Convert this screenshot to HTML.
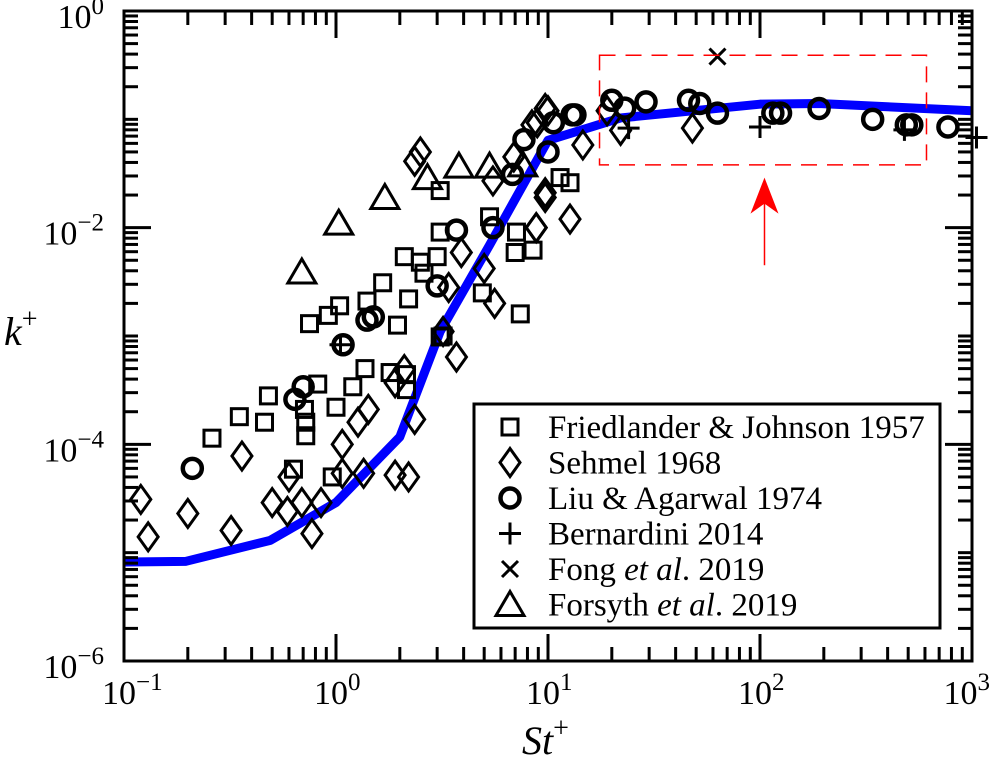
<!DOCTYPE html>
<html><head><meta charset="utf-8"><style>
html,body{margin:0;padding:0;background:#fff}
svg{display:block;font-family:"Liberation Serif",serif}
</style></head><body>
<svg id="chart" width="992" height="758" viewBox="0 0 992 758"></svg>
<script>
const xTickExps=[-1,0,1,2,3];
const yTickExps=[0,-2,-4,-6];
const fjSt=[0.26,0.35,0.46,0.48,0.63,0.82,0.71,0.72,0.72,1.0,1.2,1.37,0.96,1.8,2.15,2.15,3.2,0.75,1.04,0.92,1.4,1.66,1.95,2.1,2.2,2.5,2.6,3.0,3.1,3.1,3.1,4.9,5.3,7.1,7.0,8.5,7.4,11.4,12.7];
const fjK=[1.14e-4,1.8e-4,1.6e-4,2.8e-4,5.9e-5,3.6e-4,2.1e-4,1.6e-4,1.2e-4,2.2e-4,3.4e-4,5e-4,5e-5,4.6e-4,3.2e-4,4.4e-4,1e-3,1.3e-3,1.9e-3,1.55e-3,2.1e-3,3.1e-3,1.26e-3,5.4e-3,2.2e-3,4.8e-3,3.8e-3,5.4e-3,9.1e-3,2.2e-2,9.8e-4,2.5e-3,1.26e-2,9.1e-3,5.9e-3,6.2e-3,1.6e-3,2.9e-2,2.6e-2];
const sehSt=[0.12,0.13,0.2,0.32,0.36,0.5,0.59,0.6,0.69,0.77,0.85,1.07,1.07,1.27,1.42,1.35,1.9,2.2,1.9,2.1,2.35,3.7,2.5,2.35,3.9,5.0,5.6,3.4,3.2,5.5,6.9,8.8,9.7,12.7,10,8.4,9.7,8.9,14.6,9.7,8.8,19,22,48];
const sehK=[3.1e-5,1.4e-5,2.3e-5,1.6e-5,7.8e-5,2.9e-5,2.4e-5,5e-5,2.9e-5,1.5e-5,2.9e-5,1.0e-4,5.4e-5,1.6e-4,2.1e-4,5.4e-5,5.2e-5,5e-5,3.7e-4,4.9e-4,1.7e-4,6.4e-4,5e-2,4.1e-2,5.9e-3,4.2e-3,2.0e-3,2.8e-3,1.1e-3,2.7e-2,4.5e-2,1.0e-2,1.9e-2,1.2e-2,1.2e-1,8.9e-2,1.26e-1,9.3e-2,5.8e-2,2.1e-2,1e-2,1.2e-1,7.9e-2,8.3e-2];
const laSt=[0.21,0.7,0.64,1.08,1.4,1.5,3.0,3.7,5.5,6.8,7.7,10,10.6,13.4,13,20,23,29,46,52,63,115,125,190,340,490,520,770];
const laK=[6e-5,3.4e-4,2.6e-4,8.3e-4,1.4e-3,1.5e-3,2.9e-3,9.5e-3,1e-2,3.1e-2,6.5e-2,5e-2,9.3e-2,1.1e-1,1.1e-1,1.5e-1,1.27e-1,1.45e-1,1.5e-1,1.4e-1,1.14e-1,1.14e-1,1.14e-1,1.26e-1,1.0e-1,8.9e-2,8.9e-2,8.5e-2];
const berSt=[1.05,24,100,480,1050];
const berK=[8.3e-4,8.3e-2,8.5e-2,8e-2,6.8e-2];
const fongSt=[63];
const fongK=[0.38];
const forSt=[0.69,1.03,1.7,2.7,3.8,5.3,7.6];
const forK=[3.9e-3,1.1e-2,1.9e-2,2.9e-2,3.7e-2,3.7e-2,3.8e-2];
const modelSt=[0.1,0.195,0.49,1.0,2.0,3.1,5.3,10,22,100,190,1000];
const modelK=[8.2e-6,8.3e-6,1.3e-5,2.9e-5,1.17e-4,1.1e-3,6.9e-3,6.4e-2,1.03e-1,1.38e-1,1.4e-1,1.2e-1];
const boxSt=[17.5,610];
const boxK=[0.39,0.038];
const arrowSt=[105];
const arrowK=[4.5e-3,2.9e-2];

const L=124,R=972,T=11,B=661;
function xs(v){return L+(Math.log10(v)+1)/4*(R-L);}
function ys(v){return T+(-Math.log10(v))/6*(B-T);}
const NS="http://www.w3.org/2000/svg";
const svg=document.getElementById('chart');
function mk(tag,attrs,parent){const e=document.createElementNS(NS,tag);for(const k in attrs)e.setAttribute(k,attrs[k]);(parent||svg).appendChild(e);return e;}

const marks=mk('g',{});


const clip=mk('clipPath',{id:'pc'});mk('rect',{x:L,y:T,width:R-L,height:B-T},clip);

const mg=mk('g',{'clip-path':'url(#pc)'},marks);
const line=mk('polyline',{points:modelSt.map((s,i)=>xs(s)+','+ys(modelK[i])).join(' '),fill:'none',stroke:'#0000ff','stroke-width':9,'stroke-linejoin':'round'},mg);



function marker(type,cx,cy,g){
 const sw=3;let e;
 if(type==='sq'){e=mk('rect',{x:cx-8,y:cy-8,width:16,height:16,fill:'none',stroke:'#000','stroke-width':sw},g);}
 else if(type==='di'){e=mk('polygon',{points:`${cx},${cy-14} ${cx+10},${cy} ${cx},${cy+14} ${cx-10},${cy}`,fill:'none',stroke:'#000','stroke-width':sw},g);}
 else if(type==='ci'){e=mk('circle',{cx:cx,cy:cy,r:9.5,fill:'none',stroke:'#000','stroke-width':4.5},g);}
 else if(type==='pl'){e=mk('path',{d:`M${cx-11},${cy}H${cx+11}M${cx},${cy-11}V${cy+11}`,stroke:'#000','stroke-width':3},g);}
 else if(type==='x'){e=mk('path',{d:`M${cx-8},${cy-8}L${cx+8},${cy+8}M${cx+8},${cy-8}L${cx-8},${cy+8}`,stroke:'#000','stroke-width':3},g);}
 else {e=mk('polygon',{points:`${cx},${cy-13} ${cx+14},${cy+11} ${cx-14},${cy+11}`,fill:'none',stroke:'#000','stroke-width':sw},g);}
 return e;
}
const series=[['friedlander-johnson','sq',fjSt,fjK],['sehmel','di',sehSt,sehK],['liu-agarwal','ci',laSt,laK],['bernardini','pl',berSt,berK],['fong','x',fongSt,fongK],['forsyth','tr',forSt,forK]];
series.forEach(([nm,t,sx,sy])=>{
 const g=mk('g',{},marks);
 
 
 sx.forEach((s,i)=>{const e=marker(t,xs(s),ys(sy[i]),g);
  
  });
});

const box=mk('rect',{x:xs(boxSt[0]),y:ys(boxK[0]),width:xs(boxSt[1])-xs(boxSt[0]),height:ys(boxK[1])-ys(boxK[0]),fill:'none',stroke:'#ff0000','stroke-width':1.5,'stroke-dasharray':'16,10'});


const ax=xs(arrowSt[0]),ay1=ys(arrowK[0]),ay2=ys(arrowK[1]);
const arr=mk('g',{});


mk('line',{x1:ax,y1:ay1,x2:ax,y2:ay2+10,stroke:'#ff0000','stroke-width':1.5},arr);
mk('polygon',{points:`${ax},${ay2} ${ax+14},${ay2+36} ${ax},${ay2+26} ${ax-14},${ay2+36}`,fill:'#ff0000'},arr);

const fr=mk('rect',{x:L,y:T,width:R-L,height:B-T,fill:'none',stroke:'#000','stroke-width':3});


const tk=mk('g',{stroke:'#000','stroke-width':3});


for(let d=-1;d<3;d++){for(let m=1;m<=9;m++){const v=m*Math.pow(10,d);const x=xs(v);const len=m===1?27:14;if(m===1&&d===-1)continue;
 mk('line',{x1:x,y1:B,x2:x,y2:B-len},tk);mk('line',{x1:x,y1:T,x2:x,y2:T+len},tk);}}
for(let d=-6;d<0;d++){for(let m=1;m<=9;m++){const v=m*Math.pow(10,d);const y=ys(v);const len=(m===1&&d%2===0)?27:14;if(m===1&&d===-6)continue;
 mk('line',{x1:L,y1:y,x2:L+len,y2:y},tk);mk('line',{x1:R,y1:y,x2:R-len,y2:y},tk);}}

function powLabel(x,y,exp,anchor,name){
 const t=mk('text',{x:x,y:y,'font-size':34,'text-anchor':anchor,fill:'#000'});
 
 
 t.appendChild(document.createTextNode('10'));
 const s=mk('tspan',{'font-size':25,dy:-14},t);s.textContent=(exp<0?'\u2212':'')+Math.abs(exp);
 return t;
}
xTickExps.forEach((e,i)=>{
 if(i===xTickExps.length-1) powLabel(990,704,e,'end','x-tick-label');
 else powLabel(xs(Math.pow(10,e))-22,704,e,'start','x-tick-label');
});
yTickExps.forEach(e=>powLabel(104,ys(Math.pow(10,e))+17,e,'end','y-tick-label'));

const yt=mk('text',{x:4,y:345,'font-size':40,'font-style':'italic'});


yt.appendChild(document.createTextNode('k'));
mk('tspan',{'font-size':28,dy:-17,'font-style':'normal'},yt).textContent='+';
const xt=mk('text',{x:522,y:754,'font-size':40,'font-style':'italic'});


xt.appendChild(document.createTextNode('St'));
mk('tspan',{'font-size':28,dy:-17,'font-style':'normal'},xt).textContent='+';

const lg=mk('g',{});


mk('rect',{x:474,y:404,width:466,height:224,fill:'#fff',stroke:'#000','stroke-width':3},lg);
const labels=[['Friedlander & Johnson 1957'],['Sehmel 1968'],['Liu & Agarwal 1974'],['Bernardini 2014'],['Fong ','et al','. 2019'],['Forsyth ','et al','. 2019']];
const types=['sq','di','ci','pl','x','tr'];
labels.forEach((lb,i)=>{
 const cy=427+i*35.5;
 const g=mk('g',{},lg);
 
 
 marker(types[i],510,cy,g);
 const t=mk('text',{x:548,y:cy+11,'font-size':33},g);
 t.appendChild(document.createTextNode(lb[0]));
 if(lb.length>1){mk('tspan',{'font-style':'italic'},t).textContent=lb[1];t.appendChild(document.createTextNode(lb[2]));}
});
</script>
</body></html>
